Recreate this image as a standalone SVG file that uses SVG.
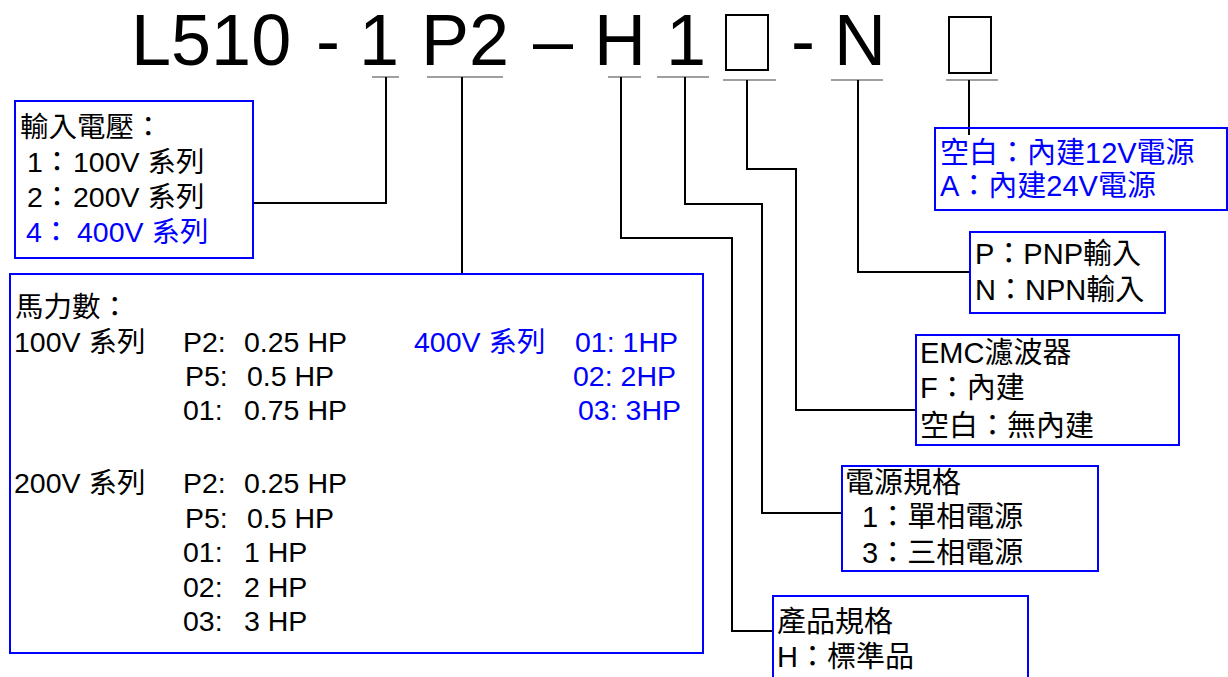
<svg xmlns="http://www.w3.org/2000/svg" width="1228" height="677" viewBox="0 0 1228 677">
<style>
text { font-family: "Liberation Sans", "Noto Sans CJK TC", sans-serif; fill: #000; }
.title { font-size: 72px; }
.t { font-size: 28.5px; }
.tv { font-size: 28.5px; }
.tr { font-size: 29px; }
.blue { fill: #0000ff; }
.box { fill: none; stroke: #0000ff; stroke-width: 2; }
.ul { stroke: #7f7f7f; stroke-width: 1.5; fill: none; }
.ln { stroke: #000; stroke-width: 2; fill: none; }
</style>
<rect width="1228" height="677" fill="#fff"/>

<g id="title">
  <text class="title" x="131" y="65">L510</text>
  <text class="title" x="316" y="65">-</text>
  <text class="title" x="359" y="65">1</text>
  <text class="title" x="421" y="65">P2</text>
  <text class="title" x="533" y="65">–</text>
  <text class="title" x="594" y="65">H</text>
  <text class="title" x="666" y="65">1</text>
  <rect x="726" y="15" width="42" height="55" fill="none" stroke="#000" stroke-width="2"/>
  <text class="title" x="791" y="65">-</text>
  <text class="title" x="834" y="65">N</text>
  <rect x="949" y="17" width="42" height="56" fill="none" stroke="#000" stroke-width="2"/>
</g>

<g id="connectors">
  <line class="ul" x1="372" y1="77" x2="399" y2="77"/>
  <line class="ul" x1="427" y1="77" x2="503" y2="77"/>
  <line class="ul" x1="608" y1="77" x2="641" y2="77"/>
  <line class="ul" x1="657" y1="77" x2="709" y2="77"/>
  <line class="ul" x1="723" y1="80" x2="776" y2="80"/>
  <line class="ul" x1="831" y1="80" x2="883" y2="80"/>
  <line class="ul" x1="946" y1="80" x2="998" y2="80"/>
  <polyline class="ln" points="386,77 386,203 253,203"/>
  <polyline class="ln" points="462,77 462,274"/>
  <polyline class="ln" points="621,77 621,238 732,238 732,631 773,631"/>
  <polyline class="ln" points="685,77 685,204 762,204 762,513 842,513"/>
  <polyline class="ln" points="747,80 747,169 796,169 796,410 916,410"/>
  <polyline class="ln" points="858,80 858,272 970,272"/>
  <polyline class="ln" points="969,80 969,135"/>
</g>

<g id="node-voltage">
  <rect class="box" x="15" y="101" width="238" height="157"/>
  <text class="tv" x="20" y="137">輸入電壓：</text>
  <text class="tv" y="172"><tspan x="27">1：</tspan><tspan x="73">100V 系列</tspan></text>
  <text class="tv" y="207"><tspan x="27">2：</tspan><tspan x="73">200V 系列</tspan></text>
  <text class="tv blue" y="242"><tspan x="26">4：</tspan><tspan x="77">400V 系列</tspan></text>
</g>

<g id="node-hp">
  <rect class="box" x="10" y="274" width="693" height="379"/>
  <text class="t" x="15" y="317">馬力數：</text>
  <text class="t" y="352"><tspan x="14">100V 系列</tspan><tspan x="183">P2:</tspan><tspan x="244">0.25 HP</tspan></text>
  <text class="t" y="386"><tspan x="185">P5:</tspan><tspan x="247">0.5 HP</tspan></text>
  <text class="t" y="420"><tspan x="183">01:</tspan><tspan x="244">0.75 HP</tspan></text>
  <text class="t blue" y="352"><tspan x="414">400V 系列</tspan><tspan x="575">01: 1HP</tspan></text>
  <text class="t blue" y="386" x="573">02: 2HP</text>
  <text class="t blue" y="420" x="578">03: 3HP</text>
  <text class="t" y="493"><tspan x="14">200V 系列</tspan><tspan x="183">P2:</tspan><tspan x="244">0.25 HP</tspan></text>
  <text class="t" y="528"><tspan x="185">P5:</tspan><tspan x="247">0.5 HP</tspan></text>
  <text class="t" y="562"><tspan x="183">01:</tspan><tspan x="244">1 HP</tspan></text>
  <text class="t" y="597"><tspan x="183">02:</tspan><tspan x="244">2 HP</tspan></text>
  <text class="t" y="631"><tspan x="183">03:</tspan><tspan x="244">3 HP</tspan></text>
</g>

<g id="node-power">
  <rect class="box" x="935" y="128" width="292" height="82"/>
  <text class="tr blue" x="940" y="163">空白：內建12V電源</text>
  <text class="tr blue" x="940" y="196">A：內建24V電源</text>
</g>

<g id="node-input">
  <rect class="box" x="970" y="232" width="195" height="81"/>
  <text class="tr" x="975" y="264">P：PNP輸入</text>
  <text class="tr" x="975" y="300">N：NPN輸入</text>
</g>

<g id="node-emc">
  <rect class="box" x="916" y="335" width="263" height="110"/>
  <text class="tr" x="920" y="363">EMC濾波器</text>
  <text class="tr" x="920" y="398">F：內建</text>
  <text class="tr" x="920" y="436">空白：無內建</text>
</g>

<g id="node-phase">
  <rect class="box" x="842" y="466" width="256" height="105"/>
  <text class="tr" x="845" y="493">電源規格</text>
  <text class="tr" x="862" y="527">1：單相電源</text>
  <text class="tr" x="862" y="563">3：三相電源</text>
</g>

<g id="node-product">
  <rect class="box" x="773" y="596" width="255" height="100"/>
  <text class="tr" x="777" y="632">產品規格</text>
  <text class="tr" x="777" y="667">H：標準品</text>
</g>
</svg>
